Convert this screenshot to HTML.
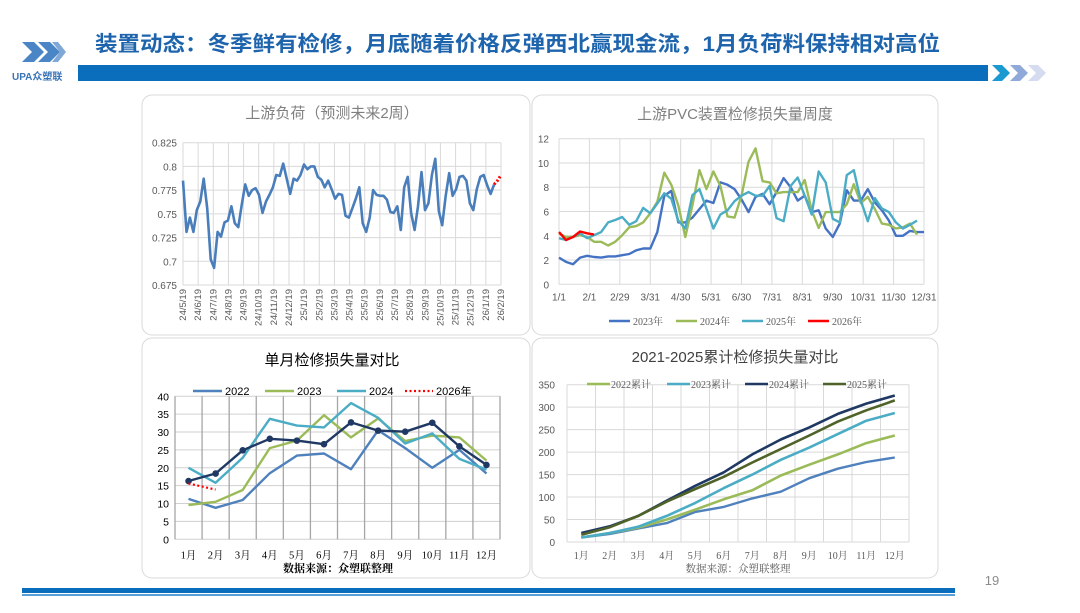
<!DOCTYPE html>
<html><head><meta charset="utf-8">
<style>
html,body{margin:0;padding:0;background:#fff;}
body{width:1080px;height:608px;overflow:hidden;position:relative;font-family:"Liberation Sans","Noto Sans CJK SC",sans-serif;}
svg text{font-family:"Liberation Sans","Noto Sans CJK SC",sans-serif;}
.serif{font-family:"Liberation Serif","Noto Serif CJK SC",serif !important;}
</style></head>
<body>
<svg id="s" width="1080" height="608" viewBox="0 0 1080 608" xmlns="http://www.w3.org/2000/svg">
  <g>
    <polygon points="22,42 34,42 44,52 34,62 22,62 32,52" fill="#4a86c5"/>
    <polygon points="38,42 50,42 60,52 50,62 38,62 48,52" fill="#4a86c5"/>
    <polygon points="52,42 58,42 66,52 58,62 52,62 60,52" fill="#7fa8d6"/>
    <text x="12" y="80" font-size="10" font-weight="bold" fill="#3a74b8">UPA众塑联</text>
  </g>
  <text x="95" y="51" font-size="21" font-weight="bold" fill="#1e64ad" textLength="845" lengthAdjust="spacingAndGlyphs">装置动态：冬季鲜有检修，月底随着价格反弹西北赢现金流，1月负荷料保持相对高位</text>
  <rect x="78" y="65" width="910" height="16" fill="#0a6ebd"/>
  <g>
    <polygon points="992,65 1002,65 1010,73 1002,81 992,81 1000,73" fill="#1a9ad1"/>
    <polygon points="1010,65 1020,65 1028,73 1020,81 1010,81 1018,73" fill="#8fa9d8"/>
    <polygon points="1028,65 1038,65 1046,73 1038,81 1028,81 1036,73" fill="#d5dcef"/>
  </g>
  <rect x="142" y="95" width="388" height="240" rx="10" fill="#fff" stroke="#d9d9d9"/>
  <rect x="532" y="95" width="406" height="240" rx="10" fill="#fff" stroke="#d9d9d9"/>
  <rect x="142" y="338" width="388" height="240" rx="10" fill="#fff" stroke="#d9d9d9"/>
  <rect x="532" y="338" width="406" height="240" rx="10" fill="#fff" stroke="#d9d9d9"/>
  <g id="c1"></g><g id="c2"></g><g id="c3"></g><g id="c4"></g>
  <text x="992" y="585" font-size="13" fill="#8c8c8c" text-anchor="middle">19</text>
  <rect x="22" y="588" width="933" height="5" fill="#0a6ebd"/>
  <rect x="22" y="594" width="933" height="2" fill="#5aa0d8"/>
</svg>
<script>
// ---- Chart 1: upstream load ----
const loadDates = ["24/5/19","24/6/19","24/7/19","24/8/19","24/9/19","24/10/19","24/11/19","24/12/19","25/1/19","25/2/19","25/3/19","25/4/19","25/5/19","25/6/19","25/7/19","25/8/19","25/9/19","25/10/19","25/11/19","25/12/19","26/1/19","26/2/19"];
const loadTicks = [0.675,0.7,0.725,0.75,0.775,0.8,0.825];
const loadActual = [0.785,0.731,0.746,0.731,0.754,0.763,0.787,0.756,0.702,0.693,0.731,0.726,0.741,0.743,0.758,0.740,0.736,0.760,0.781,0.769,0.775,0.777,0.770,0.751,0.763,0.770,0.778,0.791,0.790,0.803,0.787,0.771,0.787,0.785,0.791,0.802,0.797,0.800,0.800,0.789,0.786,0.778,0.785,0.776,0.766,0.771,0.770,0.748,0.746,0.756,0.766,0.778,0.740,0.731,0.746,0.775,0.770,0.769,0.769,0.765,0.752,0.751,0.758,0.733,0.778,0.789,0.751,0.733,0.758,0.794,0.754,0.761,0.791,0.808,0.753,0.738,0.769,0.793,0.769,0.776,0.789,0.790,0.785,0.761,0.754,0.776,0.789,0.791,0.780,0.771,0.781];
const loadForecast = [0.781,0.785,0.791];

// ---- Chart 2: weekly loss ----
const weekLabels = ["1/1","2/1","2/29","3/31","4/30","5/31","6/30","7/31","8/31","9/30","10/31","11/30","12/31"];
const weekTicks = [0,2,4,6,8,10,12];
const w2023 = [2.2,1.85,1.65,2.2,2.35,2.25,2.2,2.3,2.3,2.4,2.5,2.8,2.95,2.95,4.3,7.3,7.7,5.1,5.1,5.5,6.2,6.9,6.7,8.4,8.2,7.85,7.0,5.95,7.2,7.45,6.6,7.6,8.75,8.0,6.9,7.3,5.95,6.1,4.6,3.9,5.0,7.75,6.9,6.9,7.85,6.75,6.1,5.25,4.0,4.0,4.4,4.3,4.3];
const w2024 = [4.2,3.9,3.9,4.05,3.9,3.5,3.5,3.2,3.5,4.05,4.7,4.8,5.1,5.85,6.8,9.2,8.2,6.5,3.9,6.5,9.4,7.85,9.3,8.1,5.6,5.5,7.3,10.1,11.2,8.5,8.4,7.5,7.6,7.6,7.6,8.6,6.1,4.65,5.95,5.95,5.95,6.6,8.25,6.7,7.2,6.2,5.0,4.9,4.6,4.7,5.0,4.1];
const w2025 = [3.8,3.65,3.9,4.2,3.8,4.05,4.3,5.1,5.3,5.55,4.9,5.2,6.3,5.85,6.65,7.5,7.05,5.25,4.6,7.35,7.85,6.25,4.6,5.75,6.1,6.85,7.3,7.6,7.3,7.3,8.1,5.45,5.2,8.1,8.8,7.3,5.75,9.3,8.4,5.4,5.1,9.0,9.4,6.9,5.2,7.1,6.25,5.95,5.1,4.6,4.9,5.25];
const w2026 = [4.3,3.65,3.9,4.35,4.2,4.1];

// ---- Chart 3: monthly loss ----
const months = ["1月","2月","3月","4月","5月","6月","7月","8月","9月","10月","11月","12月"];
const monthTicks = [0,5,10,15,20,25,30,35,40];
const m2022 = [11.3,8.8,11,18.5,23.4,24,19.6,30.5,25.5,20,25,18.4];
const m2023 = [9.6,10.5,13.8,25.5,27.6,34.7,28.5,33.8,27.5,29,28.5,22];
const m2024 = [20,15.8,22.8,33.7,31.8,31.3,38.1,34,26.8,29.6,22.5,19.5];
const m2025 = [16.3,18.4,24.9,28.1,27.6,26.6,32.7,30.4,30.1,32.6,26,20.8];
const m2026 = [15.6,13.9];

// ---- Chart 4: cumulative ----
const cumTicks = [0,50,100,150,200,250,300,350];
const c2021 = [10,18,30,42,67,78,97,112,142,163,178,188];
const c2022 = [10,20,32,50,72,95,115,148,172,195,220,237];
const c2023 = [10,20,34,58,87,120,150,183,210,240,270,287];
const c2024 = [20,35,58,92,125,155,195,228,255,285,308,326];
const c2025 = [16,33,58,90,118,145,177,207,237,268,293,315];

const NS="http://www.w3.org/2000/svg";
function mk(parent,tag,attrs){const e=document.createElementNS(NS,tag);for(const k in attrs)e.setAttribute(k,attrs[k]);parent.appendChild(e);return e;}
function txt(parent,x,y,s,size,fill,anchor,extra){const t=mk(parent,'text',Object.assign({x:x,y:y,'font-size':size,fill:fill,'text-anchor':anchor||'middle'},extra||{}));t.textContent=s;return t;}
function pathD(pts){return pts.map((p,i)=>(i?'L':'M')+p[0].toFixed(1)+','+p[1].toFixed(1)).join(' ');}

// Chart 1
(function(){
  const g=document.getElementById('c1');
  const L=183,R=501,T=142.7,B=285;
  const y=v=>B-(v-0.675)/(0.15)*(B-T);
  const nAll=loadActual.length+loadForecast.length-1;
  const x=i=>L+i*(R-L)/(nAll-1)*1.0;
  loadTicks.forEach(v=>{
    const l=mk(g,'line',{x1:L,x2:R,y1:y(v),y2:y(v),stroke:'#d9d9d9','stroke-width':1});
    
    
    const t=txt(g,L-6,y(v)+4,String(v),10,'#595959','end');
    
    
  });
  loadDates.forEach((d,i)=>{
    const xx=L+i*(R-L)/(loadDates.length-1);
    const l=mk(g,'line',{x1:xx,x2:xx,y1:T,y2:B,stroke:'#d9d9d9','stroke-width':1});
    
    
    const t=txt(g,xx+3,B+4,d,9.5,'#595959','end',{transform:'rotate(-90 '+(xx+3)+' '+(B+4)+')'});
    
    
  });
  const p=mk(g,'path',{d:pathD(loadActual.map((v,i)=>[x(i),y(v)])),fill:'none',stroke:'#4a7ebb','stroke-width':2.6,'stroke-linejoin':'round'});
  
  
  const o=loadActual.length-1;
  const f=mk(g,'path',{d:pathD(loadForecast.map((v,i)=>[x(o+i),y(v)])),fill:'none',stroke:'#ff0000','stroke-width':3,'stroke-dasharray':'2 2'});
  
  
  const t=txt(g,332,118,'上游负荷（预测未来2周）',15,'#7f7f7f');
  
  
})();

// Chart 2
(function(){
  const g=document.getElementById('c2');
  const L=559,R=924,T=138.7,B=284.3;
  const y=v=>B-v/12*(B-T);
  const step=(R-L)/52;
  weekTicks.forEach(v=>{
    const l=mk(g,'line',{x1:L,x2:R,y1:y(v),y2:y(v),stroke:'#d9d9d9','stroke-width':1});
    
    
    const t=txt(g,L-10,y(v)+4,String(v),10,'#595959','end');
    
    
  });
  weekLabels.forEach((d,i)=>{
    const xx=L+i*(R-L)/12;
    const l=mk(g,'line',{x1:xx,x2:xx,y1:T,y2:B,stroke:'#d9d9d9','stroke-width':1});
    
    
    const t=txt(g,xx,B+16,d,10,'#595959');
    
    
  });
  const series=[[w2023,'#4472c4','2023年',609],[w2024,'#9bbb59','2024年',676],[w2025,'#4bacc6','2025年',742],[w2026,'#ff0000','2026年',808]];
  series.forEach(s=>{
    const p=mk(g,'path',{d:pathD(s[0].map((v,i)=>[L+i*step,y(v)])),fill:'none',stroke:s[1],'stroke-width':2.4,'stroke-linejoin':'round'});
    
    
    const ll=mk(g,'line',{x1:s[3],x2:s[3]+21,y1:321,y2:321,stroke:s[1],'stroke-width':2.5});
    
    
    const t=txt(g,s[3]+24,325,s[2],10,'#595959','start',{class:'serif'});
    
    
  });
  const t=txt(g,735,119,'上游PVC装置检修损失量周度',15,'#7f7f7f');
  
  
})();

// Chart 3
(function(){
  const g=document.getElementById('c3');
  const L=175,R=500,T=396.3,B=539.3;
  const y=v=>B-v/40*(B-T);
  const cw=(R-L)/12;
  const x=i=>L+cw*(i+0.5);
  monthTicks.forEach(v=>{
    const l=mk(g,'line',{x1:L,x2:R,y1:y(v),y2:y(v),stroke:'#d0d0d0','stroke-width':1});
    
    
    const t=txt(g,L-6,y(v)+4,String(v),10.5,'#000','end');
    
    
  });
  for(let i=0;i<=12;i++){
    const l=mk(g,'line',{x1:L+i*cw,x2:L+i*cw,y1:T,y2:B,stroke:'#a6a6a6','stroke-width':1.3});
    
    
  }
  months.forEach((m,i)=>{
    const t=txt(g,x(i),B+19,m,10.5,'#000','middle',{class:'serif'});
    
    
  });
  const series=[[m2022,'#4f81bd','2022',193],[m2023,'#9bbb59','2023',265],[m2024,'#4bacc6','2024',337]];
  series.forEach(s=>{
    const p=mk(g,'path',{d:pathD(s[0].map((v,i)=>[x(i),y(v)])),fill:'none',stroke:s[1],'stroke-width':2.4,'stroke-linejoin':'round'});
    
    
    const ll=mk(g,'line',{x1:s[3],x2:s[3]+29,y1:391,y2:391,stroke:s[1],'stroke-width':2.5});
    
    
    const t=txt(g,s[3]+32,395,s[2],11,'#000','start');
    
    
  });
  const p=mk(g,'path',{d:pathD(m2025.map((v,i)=>[x(i),y(v)])),fill:'none',stroke:'#1f3864','stroke-width':2.4,'stroke-linejoin':'round'});
  
  
  m2025.forEach((v,i)=>{
    const c=mk(g,'circle',{cx:x(i),cy:y(v),r:3.3,fill:'#1f3864'});
    
    
  });
  const d=mk(g,'path',{d:pathD(m2026.map((v,i)=>[x(i),y(v)])),fill:'none',stroke:'#ff0000','stroke-width':2.2,'stroke-dasharray':'2 2.5'});
  
  
  const dl=mk(g,'line',{x1:405,x2:433,y1:391,y2:391,stroke:'#ff0000','stroke-width':2.2,'stroke-dasharray':'2 2.5'});
  
  
  const lt=txt(g,436,395,'2026年',11,'#000','start');
  
  
  const t=txt(g,332,365,'单月检修损失量对比',15,'#000');
  
  
  const src=txt(g,338,572,'数据来源：众塑联整理',11,'#000','middle',{class:'serif','font-weight':'bold'});
  
  
})();

// Chart 4
(function(){
  const g=document.getElementById('c4');
  const L=567,R=909,T=384.7,B=542;
  const y=v=>B-v/350*(B-T);
  const cw=(R-L)/12;
  const x=i=>L+cw*(i+0.5);
  cumTicks.forEach(v=>{
    const l=mk(g,'line',{x1:L,x2:R,y1:y(v),y2:y(v),stroke:'#d9d9d9','stroke-width':1});
    
    
    const t=txt(g,L-12,y(v)+4,String(v),10,'#595959','end');
    
    
  });
  for(let i=0;i<=12;i++){
    const l=mk(g,'line',{x1:L+i*cw,x2:L+i*cw,y1:T,y2:B,stroke:'#d9d9d9','stroke-width':1});
    
    
  }
  months.forEach((m,i)=>{
    const t=txt(g,x(i),B+17,m,10,'#595959','middle',{class:'serif'});
    
    
  });
  const p0=mk(g,'path',{d:pathD(c2021.map((v,i)=>[x(i),y(v)])),fill:'none',stroke:'#4f81bd','stroke-width':2.4,'stroke-linejoin':'round'});
  
  
  const series=[[c2022,'#9bbb59','2022累计',587],[c2023,'#4bacc6','2023累计',667],[c2024,'#1f3864','2024累计',745],[c2025,'#4f6228','2025累计',823]];
  series.forEach(s=>{
    const p=mk(g,'path',{d:pathD(s[0].map((v,i)=>[x(i),y(v)])),fill:'none',stroke:s[1],'stroke-width':2.6,'stroke-linejoin':'round'});
    
    
    const ll=mk(g,'line',{x1:s[3],x2:s[3]+23,y1:384,y2:384,stroke:s[1],'stroke-width':2.5});
    
    
    const t=txt(g,s[3]+24,388,s[2],10,'#595959','start',{class:'serif'});
    
    
  });
  const t=txt(g,735,362,'2021-2025累计检修损失量对比',15,'#404040');
  
  
  const src=txt(g,738,572,'数据来源：众塑联整理',10.5,'#595959','middle',{class:'serif'});
  
  
})();
</script>
</body></html>
